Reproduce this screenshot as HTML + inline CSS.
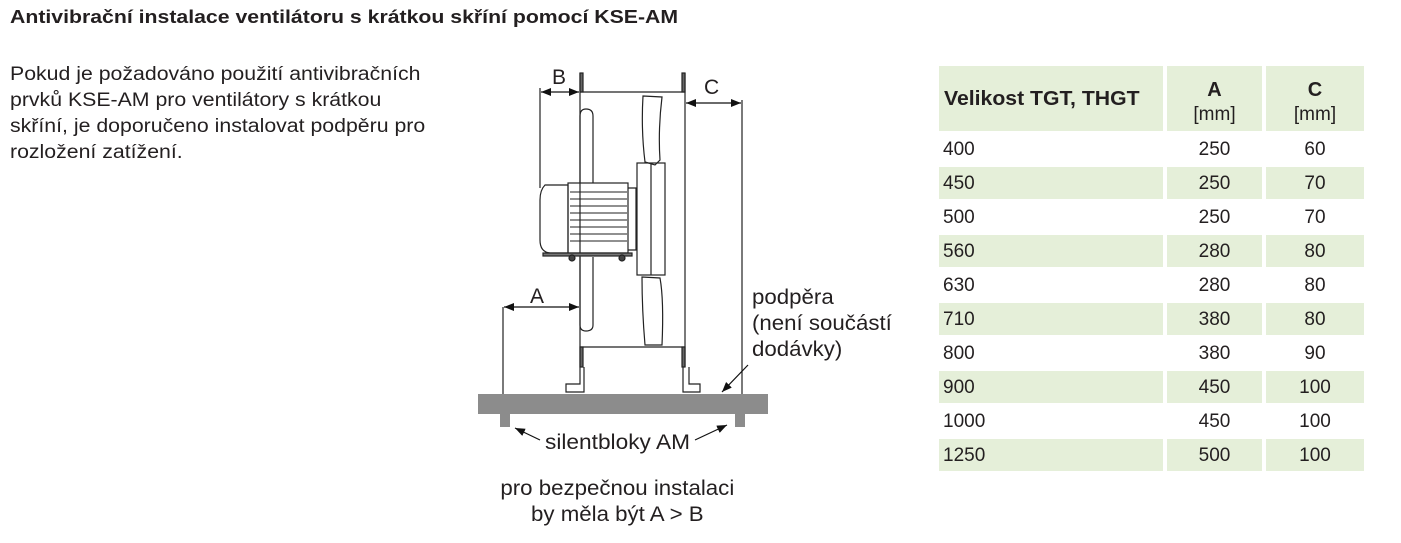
<!DOCTYPE html>
<html><head><meta charset="utf-8"><style>
body{margin:0;width:1401px;height:543px;background:#fff;position:relative;overflow:hidden;font-family:"Liberation Sans",sans-serif;color:#231f20}
.t{position:absolute;white-space:nowrap}
.s{transform-origin:0 0}
.g{background:#e5efd9}
.c{position:absolute;font-size:20px;line-height:20px}
</style></head><body>
<div class="t s" style="left:10px;top:7px;font-size:18px;font-weight:bold;transform:scaleX(1.18)">Antivibrační instalace ventilátoru s krátkou skříní pomocí KSE-AM</div>
<div class="t s" style="left:10px;top:62px;font-size:19px;line-height:26px;transform:scaleX(1.12)">Pokud je požadováno použití antivibračních<br>prvků KSE-AM pro ventilátory s krátkou<br>skříní, je doporučeno instalovat podpěru pro<br>rozložení zatížení.</div>

<svg style="position:absolute;left:0;top:0" width="1401" height="543">
<defs><marker id="ar" markerWidth="10" markerHeight="8" refX="10" refY="4" orient="auto" markerUnits="userSpaceOnUse"><path d="M0,0 L10,4 L0,8 Z" fill="#111"/></marker>
<marker id="al" markerWidth="10" markerHeight="8" refX="0" refY="4" orient="auto" markerUnits="userSpaceOnUse"><path d="M10,0 L0,4 L10,8 Z" fill="#111"/></marker></defs>
<g stroke="#222" stroke-width="1.2" fill="none">
<line x1="580" y1="73" x2="580" y2="367"/><line x1="685" y1="73" x2="685" y2="367"/>
<line x1="580" y1="92" x2="685" y2="92"/><line x1="580" y1="347" x2="685" y2="347"/>
<rect x="580" y="73" width="3" height="19" fill="#666"/><rect x="682" y="73" width="3" height="19" fill="#666"/>
<rect x="580" y="347" width="3" height="20" fill="#666"/><rect x="682" y="347" width="3" height="20" fill="#666"/>
<path d="M580,367 V384 H566 V392 H584 V367"/><path d="M683,367 V392 H700 V384 H689 V367"/>
<path d="M580,183 V116 Q580,109 586,109 Q593,109 593,116 V183"/><path d="M580,257 V325 Q580,331 586,331 Q593,331 593,325 V257"/>
<path d="M568,185 H545 Q540,190 540,200 V240 Q540,252 550,253 H568 Z"/>
<rect x="568" y="183" width="60" height="70"/>
<path d="M628,188 H636 V250 H628"/>
<g stroke-width="1"><line x1="570" y1="192" x2="627" y2="192"/><line x1="570" y1="199" x2="627" y2="199"/><line x1="570" y1="206" x2="627" y2="206"/><line x1="570" y1="213" x2="627" y2="213"/><line x1="570" y1="220" x2="627" y2="220"/><line x1="570" y1="227" x2="627" y2="227"/><line x1="570" y1="234" x2="627" y2="234"/><line x1="570" y1="241" x2="627" y2="241"/></g>
<rect x="543" y="253" width="89" height="3" fill="#777"/>
<circle cx="572" cy="258" r="3" fill="#444"/><circle cx="622" cy="258" r="3" fill="#444"/>
<rect x="637" y="163" width="28" height="112"/><line x1="651" y1="163" x2="651" y2="275"/>
<path d="M643,96 L662,97 Q658,130 660,160 L655,165 L645,162 Q641,130 643,96 Z"/>
<path d="M642,277 L660,278 Q664,300 662,345 L645,345 Q642,310 642,277 Z"/>
<line x1="540" y1="88" x2="540" y2="188"/><line x1="742" y1="100" x2="742" y2="395"/><line x1="503" y1="307" x2="503" y2="395"/>
</g>
<rect x="478" y="394" width="290" height="20" fill="#8c8c8c"/>
<rect x="500" y="414" width="10" height="13" fill="#8c8c8c"/><rect x="735" y="414" width="10" height="13" fill="#8c8c8c"/>
<g stroke="#111" stroke-width="1.2">
<line x1="541" y1="92" x2="579" y2="92" marker-start="url(#al)" marker-end="url(#ar)"/>
<line x1="686" y1="103" x2="741" y2="103" marker-start="url(#al)" marker-end="url(#ar)"/>
<line x1="504" y1="307" x2="579" y2="307" marker-start="url(#al)" marker-end="url(#ar)"/>
<line x1="748" y1="365" x2="722" y2="392" marker-end="url(#ar)"/>
<line x1="540" y1="440" x2="515" y2="428" marker-end="url(#ar)"/>
<line x1="695" y1="440" x2="727" y2="425" marker-end="url(#ar)"/>
</g>
</svg>
<div class="c" style="left:552px;top:68px;font-size:21px">B</div>
<div class="c" style="left:704px;top:78px;font-size:21px">C</div>
<div class="c" style="left:530px;top:287px;font-size:21px">A</div>
<div class="t s" style="left:752px;top:285px;font-size:21px;line-height:26px;transform:scaleX(1.06)">podpěra<br>(není součástí<br>dodávky)</div>
<div class="t s" style="left:545px;top:431px;font-size:21px;transform:scaleX(1.08)">silentbloky AM</div>
<div class="t" style="left:467px;width:300px;top:476px;font-size:21px;line-height:26px;text-align:center"><span class="s" style="display:inline-block;transform:scaleX(1.06);transform-origin:50% 0">pro bezpečnou instalaci<br>by měla být A &gt; B</span></div>

<div style="position:absolute;left:939px;top:66px;font-size:19px">
<div style="position:relative;height:66px">
<div class="g" style="position:absolute;left:0;width:224px;height:65px"></div>
<div class="g" style="position:absolute;left:228px;width:95px;height:65px"></div>
<div class="g" style="position:absolute;left:327px;width:98px;height:65px"></div>
<div class="t s" style="left:5px;top:22px;font-weight:bold;font-size:20px;transform:scaleX(1.06)">Velikost TGT, THGT</div>
<div class="t" style="left:228px;width:95px;top:12px;text-align:center;line-height:24px"><b style="font-size:20px">A</b><br>[mm]</div>
<div class="t" style="left:327px;width:98px;top:12px;text-align:center;line-height:24px"><b style="font-size:20px">C</b><br>[mm]</div>
</div>
</div>
<div style="position:absolute;left:939px;top:133px;font-size:19px">
<div style="position:relative;height:34px"><div class="t" style="left:4px;top:6px">400</div><div class="t" style="left:228px;width:95px;top:6px;text-align:center">250</div><div class="t" style="left:327px;width:98px;top:6px;text-align:center">60</div></div>
<div style="position:relative;height:34px"><div class="g" style="position:absolute;width:224px;height:32px"></div><div class="g" style="position:absolute;left:228px;width:95px;height:32px"></div><div class="g" style="position:absolute;left:327px;width:98px;height:32px"></div><div class="t" style="left:4px;top:6px">450</div><div class="t" style="left:228px;width:95px;top:6px;text-align:center">250</div><div class="t" style="left:327px;width:98px;top:6px;text-align:center">70</div></div>
<div style="position:relative;height:34px"><div class="t" style="left:4px;top:6px">500</div><div class="t" style="left:228px;width:95px;top:6px;text-align:center">250</div><div class="t" style="left:327px;width:98px;top:6px;text-align:center">70</div></div>
<div style="position:relative;height:34px"><div class="g" style="position:absolute;width:224px;height:32px"></div><div class="g" style="position:absolute;left:228px;width:95px;height:32px"></div><div class="g" style="position:absolute;left:327px;width:98px;height:32px"></div><div class="t" style="left:4px;top:6px">560</div><div class="t" style="left:228px;width:95px;top:6px;text-align:center">280</div><div class="t" style="left:327px;width:98px;top:6px;text-align:center">80</div></div>
<div style="position:relative;height:34px"><div class="t" style="left:4px;top:6px">630</div><div class="t" style="left:228px;width:95px;top:6px;text-align:center">280</div><div class="t" style="left:327px;width:98px;top:6px;text-align:center">80</div></div>
<div style="position:relative;height:34px"><div class="g" style="position:absolute;width:224px;height:32px"></div><div class="g" style="position:absolute;left:228px;width:95px;height:32px"></div><div class="g" style="position:absolute;left:327px;width:98px;height:32px"></div><div class="t" style="left:4px;top:6px">710</div><div class="t" style="left:228px;width:95px;top:6px;text-align:center">380</div><div class="t" style="left:327px;width:98px;top:6px;text-align:center">80</div></div>
<div style="position:relative;height:34px"><div class="t" style="left:4px;top:6px">800</div><div class="t" style="left:228px;width:95px;top:6px;text-align:center">380</div><div class="t" style="left:327px;width:98px;top:6px;text-align:center">90</div></div>
<div style="position:relative;height:34px"><div class="g" style="position:absolute;width:224px;height:32px"></div><div class="g" style="position:absolute;left:228px;width:95px;height:32px"></div><div class="g" style="position:absolute;left:327px;width:98px;height:32px"></div><div class="t" style="left:4px;top:6px">900</div><div class="t" style="left:228px;width:95px;top:6px;text-align:center">450</div><div class="t" style="left:327px;width:98px;top:6px;text-align:center">100</div></div>
<div style="position:relative;height:34px"><div class="t" style="left:4px;top:6px">1000</div><div class="t" style="left:228px;width:95px;top:6px;text-align:center">450</div><div class="t" style="left:327px;width:98px;top:6px;text-align:center">100</div></div>
<div style="position:relative;height:34px"><div class="g" style="position:absolute;width:224px;height:32px"></div><div class="g" style="position:absolute;left:228px;width:95px;height:32px"></div><div class="g" style="position:absolute;left:327px;width:98px;height:32px"></div><div class="t" style="left:4px;top:6px">1250</div><div class="t" style="left:228px;width:95px;top:6px;text-align:center">500</div><div class="t" style="left:327px;width:98px;top:6px;text-align:center">100</div></div>
</div>
</body></html>
